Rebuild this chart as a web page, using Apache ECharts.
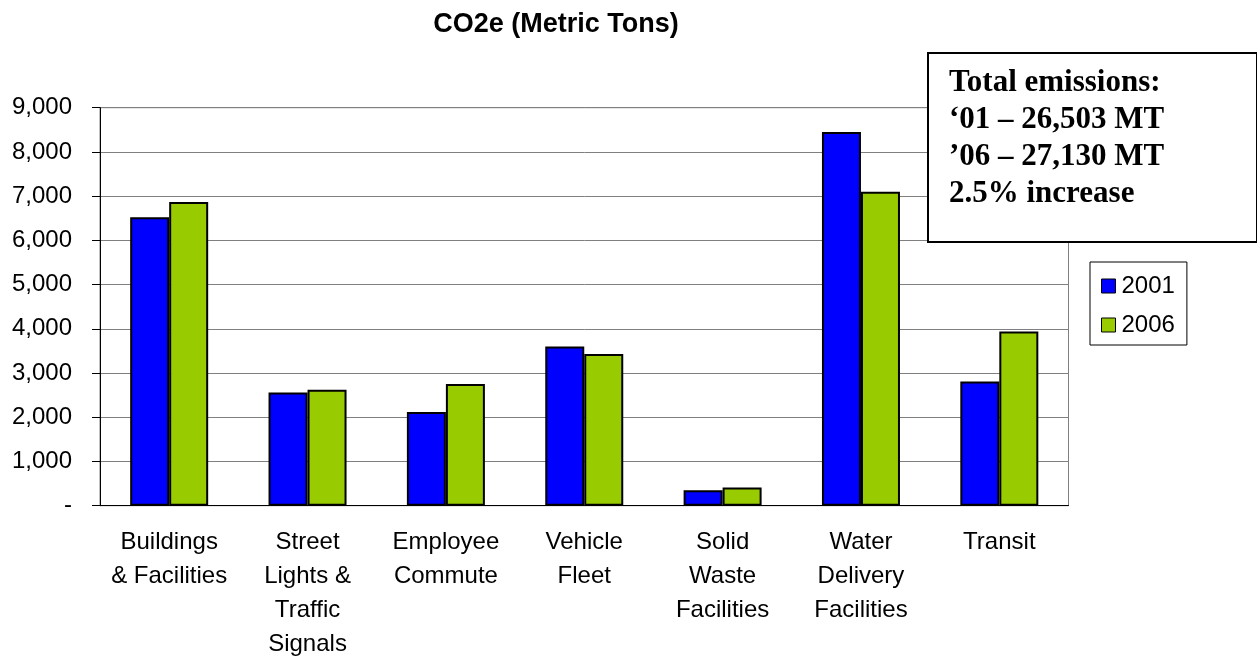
<!DOCTYPE html>
<html>
<head>
<meta charset="utf-8">
<script src="https://cdn.jsdelivr.net/npm/echarts@6/dist/echarts.min.js"></script>
<style>
  html, body { margin: 0; padding: 0; background: #fff; }
  #chart { width: 1257px; height: 658px; }
</style>
</head>
<body>
<div id="chart"></div>
<script>
// 数据
var categories = [
  "Buildings\n& Facilities",
  "Street\nLights &\nTraffic\nSignals",
  "Employee\nCommute",
  "Vehicle\nFleet",
  "Solid\nWaste\nFacilities",
  "Water\nDelivery\nFacilities",
  "Transit"
];
var seriesNames = ["2001", "2006"];
var values2001 = [6520, 2560, 2120, 3600, 350, 8450, 2810];
var values2006 = [6870, 2620, 2750, 3430, 410, 7100, 3940];
var yTicks = [0, 1000, 2000, 3000, 4000, 5000, 6000, 7000, 8000, 9000];
var noteLines = [
  "Total emissions:",
  "\u201801 \u2013 26,503 MT",
  "\u201906 \u2013 27,130 MT",
  "2.5% increase"
];

var colors = ["#0000FF", "#99CC00"];
var sansFont = "'Liberation Sans', Arial, sans-serif";

var myChart = echarts.init(document.getElementById("chart"));

function barSeries(name, data, color) {
  return {
    name: name,
    type: "bar",
    data: data,
    barWidth: 39,
    barGap: "0%",
    itemStyle: {
      color: color,
      borderColor: "#000",
      borderWidth: 2,
    },
  };
}

myChart.setOption({
  animation: false,
  backgroundColor: "#fff",
  title: {
    text: "CO2e (Metric Tons)",
    left: 551,
    top: 6,
    textAlign: "center",
    textStyle: {
      fontFamily: sansFont,
      fontWeight: "bold",
      fontSize: 27,
      color: "#000",
    },
  },
  legend: {
    data: seriesNames,
    orient: "vertical",
    left: 1090,
    top: 262,
    padding: [12, 12, 8, 11],
    itemWidth: 14,
    itemHeight: 14,
    itemGap: 15,
    borderColor: "#000",
    borderWidth: 1,
    icon: "rect",
    itemStyle: { borderColor: "#000", borderWidth: 1 },
    textStyle: {
      fontFamily: sansFont,
      fontSize: 24,
      color: "#000",
      padding: [0, 0, 0, 1],
    },
  },
  grid: {
    left: 100,
    right: 1257 - 1068.5,
    top: 107.7,
    bottom: 658 - 505.7,
    containLabel: false,
    outerBoundsMode: "none",
    show: true,
    borderColor: "#808080",
    borderWidth: 1,
  },
  xAxis: {
    type: "category",
    data: categories,
    axisLine: { lineStyle: { color: "#000", width: 1 } },
    axisTick: { length: 8, lineStyle: { color: "#000" } },
    axisLabel: {
      fontFamily: sansFont,
      fontSize: 24,
      lineHeight: 34,
      color: "#000",
      margin: 20,
      interval: 0,
      align: "center",
    },
  },
  yAxis: {
    type: "value",
    min: yTicks[0],
    max: yTicks[yTicks.length - 1],
    interval: 1000,
    axisLine: { show: true, lineStyle: { color: "#000", width: 1 } },
    axisTick: { show: true, length: 8, lineStyle: { color: "#000" } },
    splitLine: { lineStyle: { color: "#808080", width: 1 } },
    axisLabel: {
      fontFamily: sansFont,
      fontSize: 24,
      color: "#000",
      margin: 28,
      formatter: function (v) {
        return v === 0 ? "-" : v.toLocaleString("en-US");
      },
    },
  },
  series: [
    barSeries(seriesNames[0], values2001, colors[0]),
    barSeries(seriesNames[1], values2006, colors[1]),
  ],
  graphic: [
    {
      type: "rect",
      left: 927,
      top: 52,
      z: 100,
      zlevel: 1,
      shape: { x: 0, y: 0, width: 329, height: 189 },
      style: { fill: "#fff", stroke: "#000", lineWidth: 2 },
    },
    {
      type: "text",
      left: 949,
      top: 64,
      z: 101,
      zlevel: 1,
      style: {
        text: noteLines.join("\n"),
        fontFamily: "'Liberation Serif', 'Times New Roman', serif",
        fontWeight: "bold",
        fontSize: 31,
        lineHeight: 37,
        fill: "#000",
      },
    },
  ],
});
</script>
</body>
</html>
